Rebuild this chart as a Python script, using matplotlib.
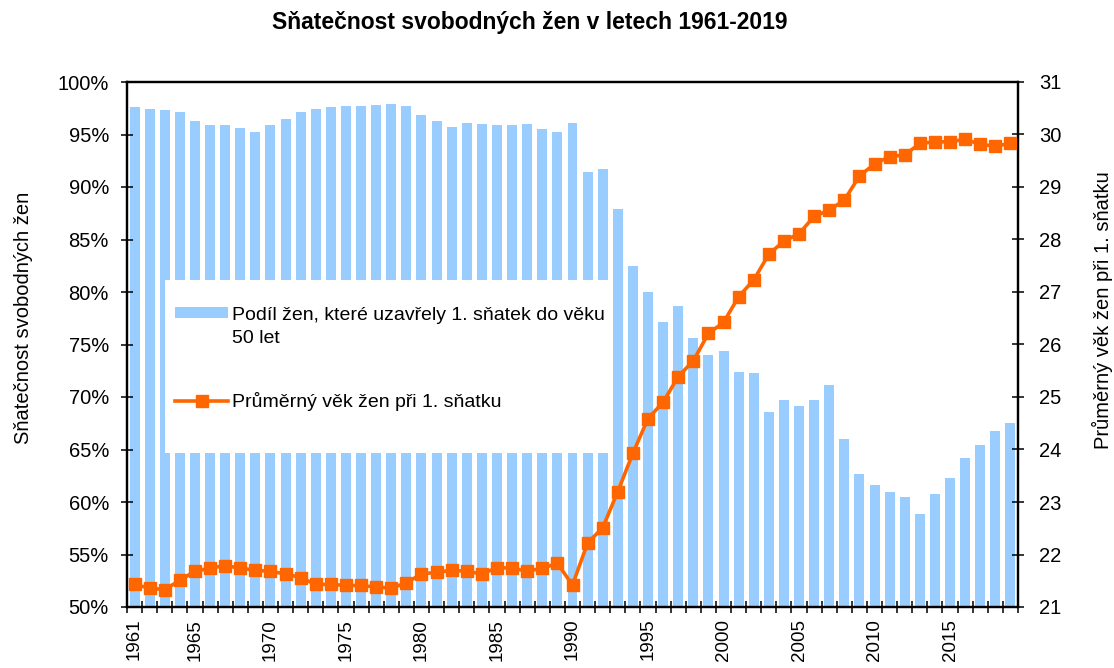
import matplotlib
matplotlib.use('Agg')
import matplotlib.pyplot as plt
import numpy as np
from matplotlib.patches import Patch, Rectangle
from matplotlib.lines import Line2D
from matplotlib.ticker import FuncFormatter, NullFormatter

plt.rcParams['font.family'] = ['Liberation Sans', 'DejaVu Sans']

# data
years = list(range(1961, 2020))
share = [97.6, 97.45, 97.3, 97.1, 96.3, 95.9, 95.9, 95.6, 95.2, 95.9,
         96.5, 97.1, 97.45, 97.6, 97.7, 97.7, 97.8, 97.9, 97.7, 96.85,
         96.25, 95.7, 96.1, 96.0, 95.9, 95.9, 96.0, 95.5, 95.2, 96.1,
         91.45, 91.7, 87.9, 82.5, 80.0, 77.1, 78.7, 75.6, 74.0, 74.4,
         72.4, 72.3, 68.6, 69.7, 69.1, 69.7, 71.1, 66.0, 62.7, 61.6,
         61.0, 60.5, 58.9, 60.75, 62.3, 64.2, 65.4, 66.8, 67.5]
age = [21.43, 21.36, 21.33, 21.51, 21.68, 21.74, 21.79, 21.74, 21.70, 21.68,
       21.63, 21.56, 21.43, 21.43, 21.41, 21.41, 21.38, 21.36, 21.46, 21.63,
       21.66, 21.70, 21.68, 21.63, 21.75, 21.74, 21.68, 21.74, 21.83, 21.42,
       22.22, 22.51, 23.20, 23.93, 24.59, 24.90, 25.39, 25.69, 26.21, 26.42,
       26.91, 27.23, 27.72, 27.97, 28.11, 28.44, 28.56, 28.75, 29.21, 29.44,
       29.58, 29.61, 29.83, 29.86, 29.86, 29.91, 29.81, 29.78, 29.83]
label_years = [1961, 1965, 1970, 1975, 1980, 1985, 1990, 1995, 2000, 2005, 2010, 2015]

blue = '#99CCFF'
orange = '#FF6600'

fig = plt.figure(figsize=(11.14, 6.68), dpi=100)
ax = fig.add_axes([127/1114, 61/668, 891/1114, 525/668])

idx = np.arange(len(years))
ax.bar(idx, share, width=0.66, color=blue, zorder=1)
ax.set_xlim(-0.5, len(years) - 0.5)
ax.set_ylim(50, 100)
ax.set_yticks(np.arange(50, 101, 5))
ax.yaxis.set_major_formatter(FuncFormatter(lambda v, p: '%d%%' % v))

# ticks on bar boundaries, labels on selected years
ax.set_xticks(np.arange(-0.5, len(years), 1))
ax.xaxis.set_major_formatter(NullFormatter())
lab_pos = [years.index(y) for y in label_years]
ax.set_xticks(lab_pos, minor=True)
ax.set_xticklabels([str(y) for y in label_years], minor=True, rotation=90, fontsize=13.5)
ax.tick_params(axis='x', which='major', direction='inout', length=9, width=1.1)
ax.tick_params(axis='x', which='minor', length=0, pad=8.5)
ax.tick_params(axis='y', direction='inout', length=9, width=1.1, labelsize=14.5, pad=8.5)

ax2 = ax.twinx()
ax2.plot(idx, age, color=orange, lw=2.6, marker='s', ms=9, zorder=3)
ax2.set_ylim(21, 31)
ax2.set_yticks(np.arange(21, 32, 1))
ax2.tick_params(axis='y', direction='inout', length=9, width=1.1, labelsize=14.5, pad=10.5)

for a in (ax, ax2):
    for s in a.spines.values():
        s.set_linewidth(1.6)
        s.set_color('black')

ax.set_ylabel('Sňatečnost svobodných žen', fontsize=14.5)
ax.yaxis.set_label_coords(-0.105, 0.55)
ax2.set_ylabel('Průměrný věk žen při 1. sňatku', fontsize=14.5, rotation=90)
ax2.yaxis.set_label_coords(1.083, 0.566)

# white legend area over the bars
ax.add_patch(Rectangle((0.0426, 0.293), 0.5028, 0.33, transform=ax.transAxes,
                       facecolor='white', edgecolor='none', zorder=3))
handles = [Patch(facecolor=blue, edgecolor='none'),
           Line2D([], [], color=orange, lw=2.6, marker='s', ms=9)]
labels = ['Podíl žen, které uzavřely 1. sňatek do věku',
          'Průměrný věk žen při 1. sňatku']
ax2.legend(handles, labels, loc='upper left', bbox_to_anchor=(0.0539, 0.572),
           frameon=False, fontsize=14, borderpad=0, borderaxespad=0,
           handlelength=2.73, handleheight=0.52, handletextpad=0.2,
           labelspacing=3.52)
ax2.text(0.1178, 0.512, '50 let', transform=ax2.transAxes, fontsize=14,
         va='center', ha='left')

fig.text(530/1114, 1 - 23/668, 'Sňatečnost svobodných žen v letech 1961-2019',
         ha='center', va='center', fontsize=16.5, fontweight='bold')

fig.savefig('out.png', dpi=100)
